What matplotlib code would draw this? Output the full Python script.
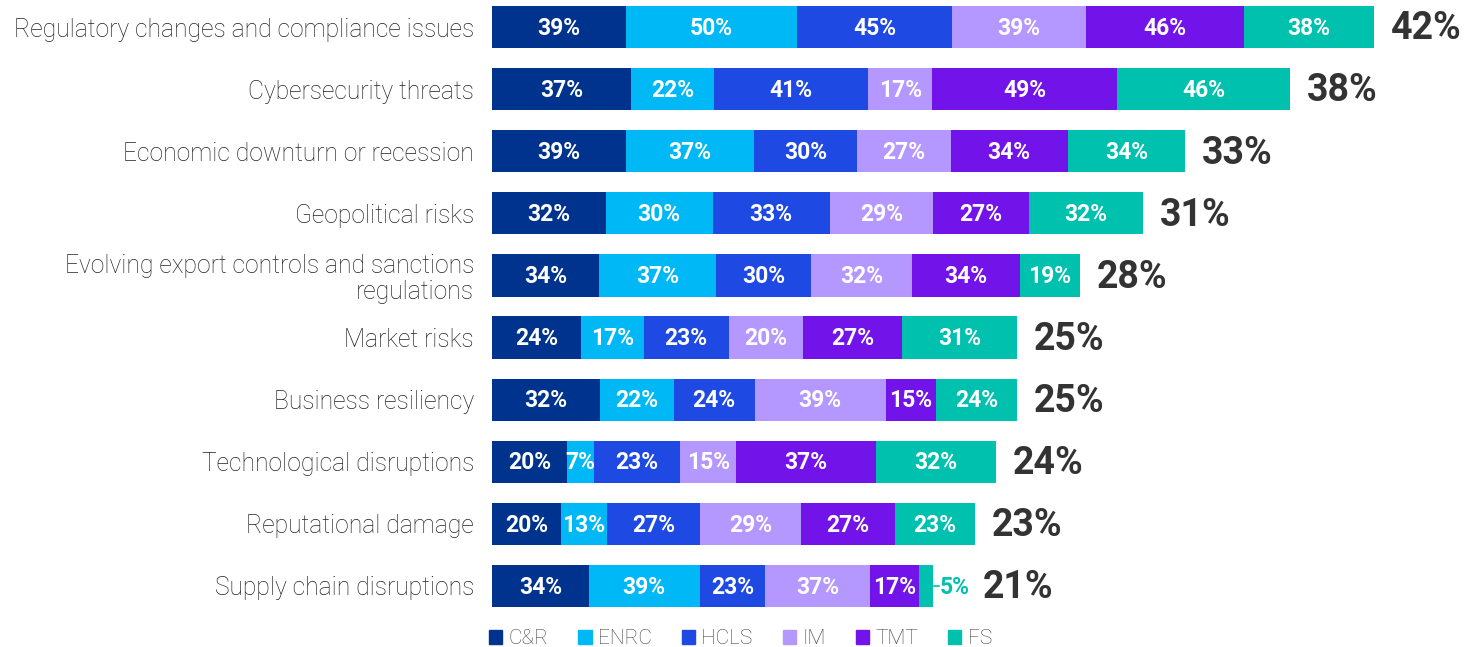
import numpy as np
import matplotlib.pyplot as plt
from matplotlib.patches import Patch

# datos
categorias = [
    'Regulatory changes and compliance issues',
    'Cybersecurity threats',
    'Economic downturn or recession',
    'Geopolitical risks',
    'Evolving export controls and sanctions\nregulations',
    'Market risks',
    'Business resiliency',
    'Technological disruptions',
    'Reputational damage',
    'Supply chain disruptions',
]
sectores = ['C&R', 'ENRC', 'HCLS', 'IM', 'TMT', 'FS']
colores = ['#00338D', '#00B8F5', '#1E49E2', '#B497FF', '#7213EA', '#00C0AE']

cr = [39, 37, 39, 32, 34, 24, 32, 20, 20, 34]
enrc = [50, 22, 37, 30, 37, 17, 22, 7, 13, 39]
hcls = [45, 41, 30, 33, 30, 23, 24, 23, 27, 23]
im = [39, 17, 27, 29, 32, 20, 39, 15, 29, 37]
tmt = [46, 49, 34, 27, 34, 27, 15, 37, 27, 17]
fs = [38, 46, 34, 32, 19, 31, 24, 32, 23, 5]
total = [42, 38, 33, 31, 28, 25, 25, 24, 23, 21]

valores = np.array([cr, enrc, hcls, im, tmt, fs]).T

fig = plt.figure(figsize=(14.71, 6.47), dpi=100)
ax = fig.add_axes([492 / 1471, 30 / 647, 979 / 1471, 617 / 647])

y = np.arange(len(categorias))
# cada barra mide el total, los segmentos se reparten segun su peso
for i in range(len(categorias)):
    fila = valores[i]
    anchos = fila / fila.sum() * total[i]
    izq = 0
    for j, w in enumerate(anchos):
        ax.barh(y[i], w, left=izq, height=0.68, color=colores[j], linewidth=0)
        if fila[j] >= 7:
            ax.text(izq + w / 2, y[i] + 0.02, f'{fila[j]}%', ha='center', va='center',
                    color='white', fontsize=16.5, fontweight='bold', family='Roboto')
        else:
            # etiqueta fuera de la barra
            ax.plot([izq + w + 0.05, izq + w + 0.3], [y[i], y[i]], color=colores[j], lw=1.2)
            ax.text(izq + w + 0.33, y[i] + 0.02, f'{fila[j]}%', ha='left', va='center',
                    color=colores[j], fontsize=16.5, fontweight='bold', family='Roboto')
        izq += w
    extra = 0.8 if fila.min() >= 7 else 2.35
    ax.text(total[i] + extra, y[i] + 0.03, f'{total[i]}%', ha='left', va='center',
            color='#333333', fontsize=27, fontweight='bold', family='Roboto')

ax.set_xlim(0, 979 / 21)
ax.set_ylim(9.5, -0.435)
ax.set_yticks(y)
ax.set_yticklabels(categorias, fontsize=17.7, color='#222222', family='Roboto',
                   fontweight='light', linespacing=1.1)
ax.tick_params(axis='y', length=0, pad=13)
ax.set_xticks([])
for s in ax.spines.values():
    s.set_visible(False)

handles = [Patch(color=c, label=s) for c, s in zip(colores, sectores)]
fig.legend(handles=handles, loc='center left', bbox_to_anchor=(489 / 1471, 1 - 639 / 647),
           ncol=6, frameon=False, handlelength=0.63, handleheight=0.63,
           handletextpad=0.3, columnspacing=1.45, labelcolor='#444444',
           borderaxespad=0, borderpad=0,
           prop={'family': 'Roboto', 'weight': 'light', 'size': 15})

fig.savefig('out.png', dpi=100)
